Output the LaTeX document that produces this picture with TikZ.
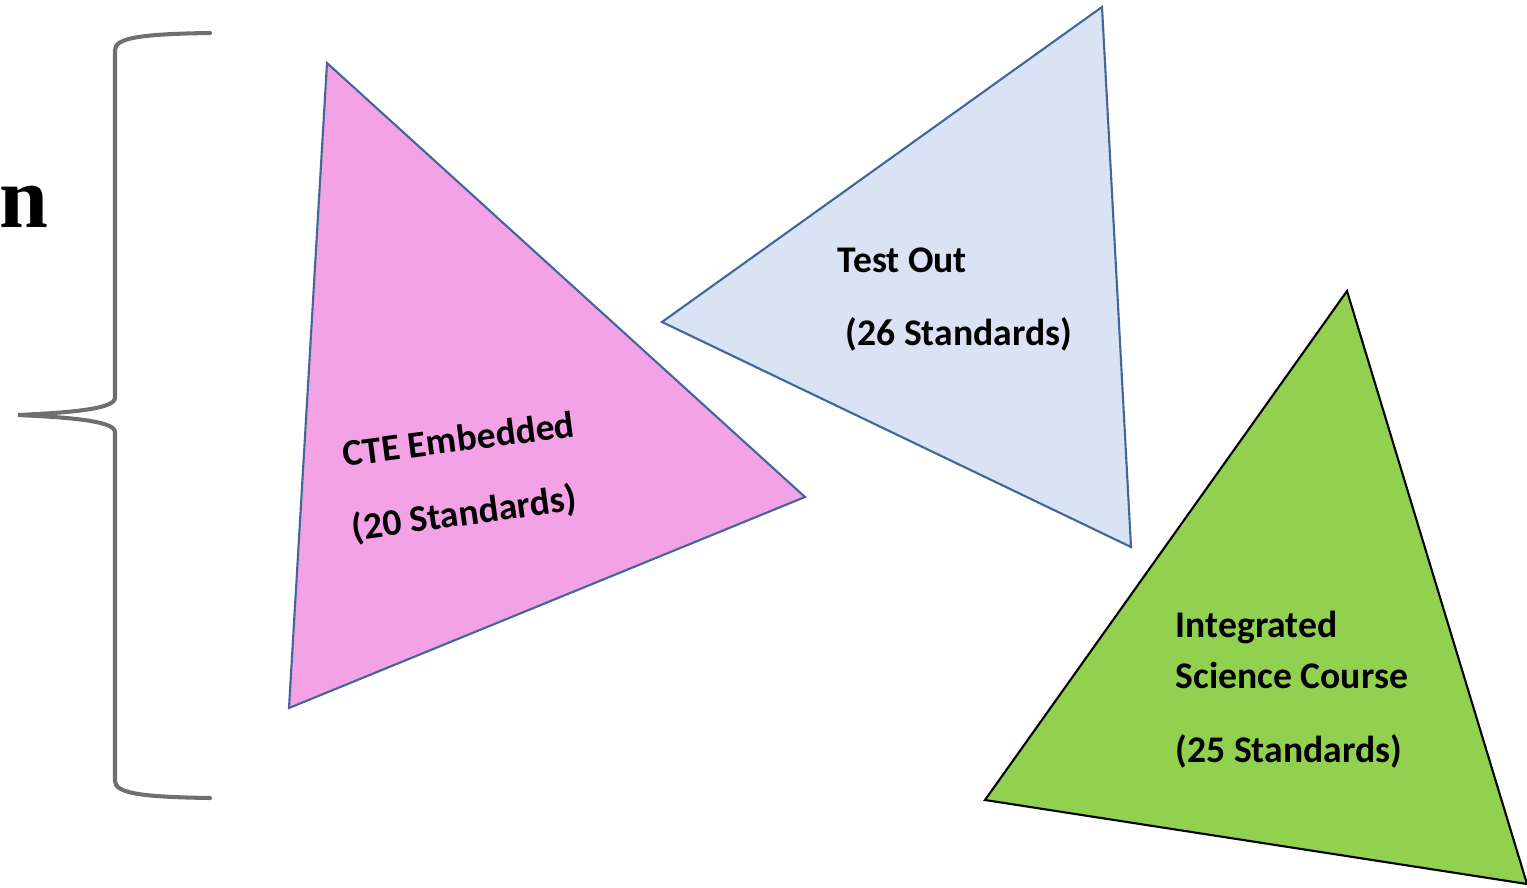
\documentclass[tikz,border=0pt]{standalone}
\usepackage{fontspec}
\newfontfamily\calib{Carlito}
\newfontfamily\serifb{Liberation Serif}
\definecolor{pinkfill}{HTML}{F3A2E6}
\definecolor{bluefill}{HTML}{DAE3F3}
\definecolor{greenfill}{HTML}{92D050}
\definecolor{edgeblue}{HTML}{41679A}
\definecolor{bracegray}{HTML}{6E6E73}
\tikzset{
  tri/.style={line width=0.6pt, line join=miter},
  lbl/.style={anchor=base west, inner sep=0pt, font=\calib\bfseries\fontsize{10.7}{13}\selectfont},
}
\begin{document}
\begin{tikzpicture}[x=0.01cm,y=-0.01cm]
\useasboundingbox (0,0) rectangle (1527,888);
\begin{scope}
\clip (0,0) rectangle (1527,888);
% triangles
\coordinate (p1) at (327,63); \coordinate (p2) at (805,497); \coordinate (p3) at (289,708);
\filldraw[tri, fill=pinkfill, draw=edgeblue] (p1) -- (p2) -- (p3) -- cycle;
\coordinate (b1) at (1102,7); \coordinate (b2) at (1131,547); \coordinate (b3) at (662,322);
\filldraw[tri, fill=bluefill, draw=edgeblue] (b1) -- (b2) -- (b3) -- cycle;
\coordinate (g1) at (1347,291); \coordinate (g2) at (1527,884); \coordinate (g3) at (985,800);
\filldraw[tri, fill=greenfill, draw=black] (g1) -- (g2) -- (g3) -- cycle;
% brace
\coordinate (bt) at (210,33); \coordinate (bm) at (18,415); \coordinate (bb) at (210,798);
\draw[bracegray, line width=1.15pt, line cap=round]
  (bt) .. controls (140,34) and (115,38) .. (115,50)
  -- (115,398) .. controls (115,410) and (60,413) .. (bm)
  .. controls (60,417) and (115,420) .. (115,432)
  -- (115,781) .. controls (115,793) and (140,797) .. (bb);
% left text
\node[anchor=base west, inner sep=0pt, font=\serifb\bfseries\fontsize{25}{28}\selectfont] (nn) at (-1,228) {n};
\end{scope}
% labels
\node[lbl, rotate=7.5] (cte) at (344,467) {CTE Embedded};
\node[lbl, rotate=7.8] (cte2) at (353,541) {(20 Standards)};
\node[lbl] (to) at (837,273) {Test Out};
\node[lbl] (to2) at (845,345) {(26 Standards)};
\node[lbl] (is1) at (1175,637) {Integrated};
\node[lbl] (is2) at (1175,688) {Science Course};
\node[lbl] (is3) at (1175,762) {(25 Standards)};
\end{tikzpicture}
\end{document}
